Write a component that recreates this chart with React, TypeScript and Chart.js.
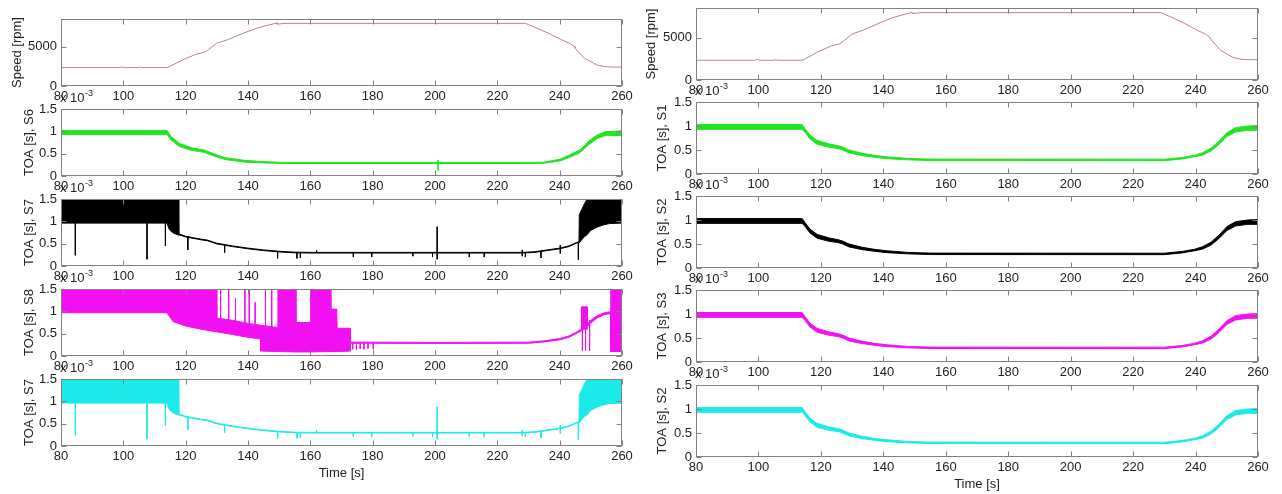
import React, { useEffect, useRef } from 'react';
import { Chart, registerables } from 'chart.js';

Chart.register(...registerables);

// ---------------- tick labels ----------------
const TIME_TICKS = [80, 100, 120, 140, 160, 180, 200, 220, 240, 260];
const SPEED_TICKS = [0, 5000];
const TOA_TICKS = [0, 0.5, 1, 1.5];

// ---------------- rotor speed [rpm] ----------------
const speedTime = [80, 99, 99.5, 100.5, 105, 105.5, 106, 114, 115, 117, 119.4, 123.3, 126, 127.2, 129.9, 133.8, 139, 143, 147, 148.9, 149.1, 149.3, 152.2, 229, 232, 236.4, 240.3, 243.5, 244.6, 244.9, 248, 252, 254.5, 257, 260];
const speedRpm = [2330, 2330, 2420, 2330, 2330, 2400, 2330, 2330, 2500, 2900, 3380, 4020, 4270, 4570, 5410, 5920, 6770, 7360, 7780, 7950, 8050, 7850, 7950, 7950, 7450, 6700, 5920, 5350, 5050, 4800, 3510, 2660, 2450, 2400, 2400];

// ---------------- TOA envelopes (x 1e-3 s) ----------------
// S6 (left, green)
const s6Time = [80, 114, 115.4, 118, 122, 126, 128.6, 132.6, 139, 145.6, 152, 229, 235, 240.3, 244, 246.7, 249.3, 252, 254.5, 260];
const s6Hi = [1.02, 1.02, 0.88, 0.73, 0.63, 0.58, 0.51, 0.41, 0.35, 0.32, 0.305, 0.305, 0.31, 0.38, 0.5, 0.59, 0.78, 0.92, 0.99, 1.01];
const s6Lo = [0.93, 0.93, 0.8, 0.66, 0.57, 0.53, 0.46, 0.37, 0.31, 0.29, 0.28, 0.28, 0.285, 0.34, 0.44, 0.53, 0.7, 0.84, 0.9, 0.91];
const s6SpikeTime = [201];
const s6SpikeTop = [0.36];
const s6SpikeBottom = [0.12];

// S7 (left, black and cyan)
const s7Time = [80, 114, 114.8, 116, 117.4, 117.6, 117.8, 120, 125, 127, 130, 135, 140, 145, 150, 155, 160, 228, 232, 236, 240, 243, 245.5, 246.2, 246.3, 247, 248, 248.8, 250, 252, 254, 256, 260];
const s7Hi = [1.5, 1.5, 1.5, 1.5, 1.5, 1.5, 0.72, 0.665, 0.6, 0.58, 0.51, 0.45, 0.4, 0.36, 0.33, 0.31, 0.305, 0.305, 0.32, 0.36, 0.4, 0.45, 0.53, 0.54, 1.15, 1.25, 1.4, 1.5, 1.5, 1.5, 1.5, 1.5, 1.5];
const s7Lo = [0.96, 0.96, 0.81, 0.74, 0.7, 0.69, 0.7, 0.65, 0.585, 0.565, 0.495, 0.435, 0.385, 0.345, 0.315, 0.295, 0.29, 0.29, 0.305, 0.345, 0.385, 0.435, 0.515, 0.52, 0.52, 0.58, 0.66, 0.7, 0.8, 0.87, 0.92, 0.95, 0.96];
const s7SpikeTime = [84.6, 107.6, 113.5, 120.7, 132.5, 149.5, 155.7, 156.8, 162, 173.8, 179.7, 192.9, 199.2, 200.7, 211, 215.8, 228, 229, 234, 240.2, 246];
const s7SpikeTop = [0.96, 0.96, 0.96, 0.66, 0.45, 0.31, 0.3, 0.3, 0.35, 0.3, 0.3, 0.3, 0.3, 0.88, 0.3, 0.3, 0.36, 0.3, 0.33, 0.47, 0.52];
const s7SpikeBottom = [0.24, 0.15, 0.45, 0.36, 0.3, 0.17, 0.17, 0.18, 0.29, 0.2, 0.2, 0.22, 0.2, 0.15, 0.2, 0.2, 0.22, 0.2, 0.18, 0.28, 0.14];

// S8 (left, magenta)
const s8Time = [80, 114, 116, 118, 120, 125, 129.9, 130, 131, 135, 140, 144, 144.1, 149.5, 149.6, 155.3, 155.4, 160, 160.1, 166.5, 166.6, 168.5, 168.6, 172.8, 172.9, 180, 200, 230, 235, 240, 243, 245, 246.9, 247, 248.8, 248.9, 250, 252, 254, 256.3, 256.4, 260];
const s8Hi = [1.5, 1.5, 1.5, 1.5, 1.5, 1.5, 1.5, 0.85, 0.84, 0.8, 0.73, 0.69, 0.69, 0.64, 1.5, 1.5, 0.75, 0.75, 1.5, 1.5, 1.05, 1.05, 0.62, 0.62, 0.31, 0.31, 0.305, 0.31, 0.34, 0.39, 0.45, 0.52, 0.6, 1.1, 1.1, 0.72, 0.8, 0.9, 0.96, 0.99, 1.5, 1.5];
const s8Lo = [0.97, 0.97, 0.77, 0.72, 0.67, 0.6, 0.54, 0.54, 0.53, 0.48, 0.42, 0.38, 0.11, 0.1, 0.1, 0.09, 0.09, 0.09, 0.09, 0.1, 0.1, 0.1, 0.1, 0.11, 0.285, 0.285, 0.28, 0.285, 0.315, 0.36, 0.42, 0.49, 0.56, 0.6, 0.6, 0.66, 0.74, 0.85, 0.92, 0.95, 0.1, 0.1];
const s8SpikeTime = [131.2, 133.8, 136, 139, 140.4, 142.3, 145.6, 147.6, 173.6, 174.8, 176, 177.2, 178.5, 180.2, 247.3, 248.3, 249.6];
const s8SpikeTop = [1.5, 1.5, 1.3, 1.5, 1.5, 1.2, 1.5, 1.5, 0.3, 0.3, 0.3, 0.3, 0.3, 0.3, 0.75, 0.8, 0.8];
const s8SpikeBottom = [0.84, 0.82, 0.78, 0.75, 0.72, 0.7, 0.67, 0.65, 0.15, 0.14, 0.16, 0.15, 0.17, 0.15, 0.12, 0.12, 0.12];

// S1 / S2 / S3 (right column)
const rightTime = [80, 114, 115, 116.5, 118.8, 122.7, 125.5, 127, 129, 133, 137, 141, 147.7, 155, 230, 235.7, 239.7, 242.3, 245, 247.5, 250, 252.8, 256.7, 260];
const rightHi = [1.03, 1.03, 0.94, 0.81, 0.7, 0.625, 0.59, 0.56, 0.5, 0.435, 0.39, 0.36, 0.325, 0.31, 0.308, 0.345, 0.39, 0.445, 0.54, 0.685, 0.86, 0.965, 1.0, 1.01];
const rightLo = [0.93, 0.93, 0.86, 0.73, 0.62, 0.555, 0.53, 0.5, 0.44, 0.385, 0.35, 0.32, 0.295, 0.28, 0.278, 0.315, 0.36, 0.395, 0.48, 0.615, 0.78, 0.875, 0.91, 0.91];

// ---------------- styles / layout ----------------
const FONT_FAMILY = '"Liberation Sans", Arial, Helvetica, sans-serif';
const TEXT_COLOR = '#222222';
const BOX_COLOR = '#808080';
const TICK_LEN = 5;
const PAD_TOP = 20;
const X_AXIS_H = 22;
const PAD_BOTTOM = 20;

const COLORS = {
  speed: '#c08282',
  green: 'rgb(34,228,34)',
  black: '#000000',
  magenta: 'rgb(242,16,242)',
  cyan: 'rgb(28,234,234)',
};

const COLUMNS = [
  { canvasLeft: 0, width: 640, plotLeft: 61, plotRight: 622, tops: [19, 109, 199, 289, 379], h: 67, speedTitleX: 17, toaTitleX: 29, timeY: 473 },
  { canvasLeft: 640, width: 642, plotLeft: 696, plotRight: 1258, tops: [8, 102, 196, 290, 385], h: 72, speedTitleX: 11, toaTitleX: 22, timeY: 484 },
];

type Band = { t: number[]; hi: number[]; lo: number[] };
type Spikes = { t: number[]; top: number[]; bottom: number[] };
type PanelSpec = {
  col: number;
  row: number;
  kind: 'speed' | 'toa';
  label: string;
  color: string;
  band?: Band;
  spikes?: Spikes;
};

const s6Band: Band = { t: s6Time, hi: s6Hi, lo: s6Lo };
const s7Band: Band = { t: s7Time, hi: s7Hi, lo: s7Lo };
const s8Band: Band = { t: s8Time, hi: s8Hi, lo: s8Lo };
const rightBand: Band = { t: rightTime, hi: rightHi, lo: rightLo };
const s6Spikes: Spikes = { t: s6SpikeTime, top: s6SpikeTop, bottom: s6SpikeBottom };
const s7Spikes: Spikes = { t: s7SpikeTime, top: s7SpikeTop, bottom: s7SpikeBottom };
const s8Spikes: Spikes = { t: s8SpikeTime, top: s8SpikeTop, bottom: s8SpikeBottom };

const PANELS: PanelSpec[] = [
  { col: 0, row: 0, kind: 'speed', label: 'Speed [rpm]', color: COLORS.speed },
  { col: 0, row: 1, kind: 'toa', label: 'TOA [s], S6', color: COLORS.green, band: s6Band, spikes: s6Spikes },
  { col: 0, row: 2, kind: 'toa', label: 'TOA [s], S7', color: COLORS.black, band: s7Band, spikes: s7Spikes },
  { col: 0, row: 3, kind: 'toa', label: 'TOA [s], S8', color: COLORS.magenta, band: s8Band, spikes: s8Spikes },
  { col: 0, row: 4, kind: 'toa', label: 'TOA [s], S7', color: COLORS.cyan, band: s7Band, spikes: s7Spikes },
  { col: 1, row: 0, kind: 'speed', label: 'Speed [rpm]', color: COLORS.speed },
  { col: 1, row: 1, kind: 'toa', label: 'TOA [s], S1', color: COLORS.green, band: rightBand },
  { col: 1, row: 2, kind: 'toa', label: 'TOA [s], S2', color: COLORS.black, band: rightBand },
  { col: 1, row: 3, kind: 'toa', label: 'TOA [s], S3', color: COLORS.magenta, band: rightBand },
  { col: 1, row: 4, kind: 'toa', label: 'TOA [s], S2', color: COLORS.cyan, band: rightBand },
];

function canvasGeom(p: PanelSpec) {
  const c = COLUMNS[p.col];
  const top = c.tops[p.row] - PAD_TOP;
  const height = PAD_TOP + c.h + X_AXIS_H + PAD_BOTTOM;
  return { left: c.canvasLeft, top, width: c.width, height };
}

function buildConfig(p: PanelSpec): any {
  const c = COLUMNS[p.col];
  const g = canvasGeom(p);
  const isSpeed = p.kind === 'speed';
  const yTicks = isSpeed ? SPEED_TICKS : TOA_TICKS;
  const yTitleX = isSpeed ? c.speedTitleX : c.toaTitleX;
  const font = { family: FONT_FAMILY, size: 13 };

  const datasets: any[] = [];
  if (isSpeed) {
    datasets.push({
      data: speedTime.map((t, i) => ({ x: t, y: speedRpm[i] })),
      borderColor: p.color,
      borderWidth: 1,
      pointRadius: 0,
      fill: false,
    });
  } else if (p.band) {
    const b = p.band;
    datasets.push({
      data: b.t.map((t, i) => ({ x: t, y: b.hi[i] })),
      borderColor: p.color,
      backgroundColor: p.color,
      borderWidth: 1,
      pointRadius: 0,
      fill: '+1',
    });
    datasets.push({
      data: b.t.map((t, i) => ({ x: t, y: b.lo[i] })),
      borderColor: p.color,
      borderWidth: 1,
      pointRadius: 0,
      fill: false,
    });
    if (p.spikes) {
      const s = p.spikes;
      const pts: any[] = [];
      s.t.forEach((t, i) => {
        pts.push({ x: t, y: s.top[i] });
        pts.push({ x: t, y: s.bottom[i] });
        pts.push({ x: t, y: null });
      });
      datasets.push({
        data: pts,
        borderColor: p.color,
        borderWidth: 1,
        pointRadius: 0,
        fill: false,
        spanGaps: false,
      });
    }
  }

  const framePlugin = {
    id: 'matlabFrame',
    afterDraw(chart: any) {
      const { ctx, chartArea: a } = chart;
      const xs = chart.scales.x;
      const ys = chart.scales.y;
      ctx.save();
      ctx.strokeStyle = BOX_COLOR;
      ctx.lineWidth = 1;
      const L = Math.round(a.left) + 0.5;
      const R = Math.round(a.right) - 0.5;
      const T = Math.round(a.top) + 0.5;
      const B = Math.round(a.bottom) - 0.5;
      ctx.strokeRect(L, T, R - L, B - T);
      ctx.beginPath();
      TIME_TICKS.forEach((v) => {
        const px = Math.round(xs.getPixelForValue(v)) + 0.5;
        ctx.moveTo(px, B);
        ctx.lineTo(px, B - TICK_LEN);
        ctx.moveTo(px, T);
        ctx.lineTo(px, T + TICK_LEN);
      });
      yTicks.forEach((v) => {
        const py = Math.round(ys.getPixelForValue(v)) + 0.5;
        ctx.moveTo(L, py);
        ctx.lineTo(L + TICK_LEN, py);
        ctx.moveTo(R, py);
        ctx.lineTo(R - TICK_LEN, py);
      });
      ctx.stroke();

      ctx.fillStyle = TEXT_COLOR;
      ctx.font = `13px ${FONT_FAMILY}`;
      // y axis title
      ctx.save();
      ctx.translate(yTitleX, (a.top + a.bottom) / 2);
      ctx.rotate(-Math.PI / 2);
      ctx.textAlign = 'center';
      ctx.textBaseline = 'middle';
      ctx.fillText(p.label, 0, 0);
      ctx.restore();

      // exponent label
      if (!isSpeed) {
        ctx.textAlign = 'left';
        ctx.textBaseline = 'alphabetic';
        const base = 'x 10';
        const ex = a.left - 1;
        const ey = a.top - 7;
        ctx.fillText(base, ex, ey);
        const w = ctx.measureText(base).width;
        ctx.font = `9px ${FONT_FAMILY}`;
        ctx.fillText('-3', ex + w + 0.5, ey - 6);
      }

      // x axis title on the bottom row
      if (p.row === 4) {
        ctx.font = `13px ${FONT_FAMILY}`;
        ctx.textAlign = 'center';
        ctx.textBaseline = 'middle';
        ctx.fillText('Time [s]', (a.left + a.right) / 2, c.timeY - g.top);
      }
      ctx.restore();
    },
  };

  return {
    type: 'line',
    data: { datasets },
    plugins: [framePlugin],
    options: {
      animation: false,
      responsive: false,
      maintainAspectRatio: false,
      events: [],
      layout: {
        padding: {
          left: 0,
          right: g.width - (c.plotRight - c.canvasLeft),
          top: PAD_TOP,
          bottom: PAD_BOTTOM,
        },
      },
      plugins: {
        legend: { display: false },
        title: { display: false },
        tooltip: { enabled: false },
      },
      scales: {
        x: {
          type: 'linear',
          min: 80,
          max: 260,
          grid: { display: false, drawTicks: false, tickLength: 0 },
          border: { display: false },
          afterBuildTicks: (scale: any) => {
            scale.ticks = TIME_TICKS.map((v) => ({ value: v }));
          },
          afterFit: (scale: any) => {
            scale.height = X_AXIS_H;
            scale.paddingLeft = 0;
            scale.paddingRight = 0;
          },
          ticks: {
            autoSkip: false,
            maxRotation: 0,
            minRotation: 0,
            padding: 3,
            color: TEXT_COLOR,
            font,
            callback: (v: any) => String(v),
          },
        },
        y: {
          type: 'linear',
          min: 0,
          max: isSpeed ? 8500 : 1.5,
          grid: { display: false, drawTicks: false, tickLength: 0 },
          border: { display: false },
          afterBuildTicks: (scale: any) => {
            scale.ticks = yTicks.map((v) => ({ value: v }));
          },
          afterFit: (scale: any) => {
            scale.width = c.plotLeft - c.canvasLeft;
            scale.paddingTop = 0;
            scale.paddingBottom = 0;
          },
          ticks: {
            autoSkip: false,
            padding: 4,
            color: TEXT_COLOR,
            font,
            callback: (v: any) => String(v),
          },
        },
      },
    },
  };
}

function PanelChart({ spec }: { spec: PanelSpec }) {
  const ref = useRef<HTMLCanvasElement | null>(null);
  const g = canvasGeom(spec);
  useEffect(() => {
    if (!ref.current) return;
    const chart = new Chart(ref.current, buildConfig(spec));
    return () => chart.destroy();
  }, [spec]);
  return (
    <canvas
      ref={ref}
      width={g.width}
      height={g.height}
      style={{
        position: 'absolute',
        left: `${g.left}px`,
        top: `${g.top}px`,
        width: `${g.width}px`,
        height: `${g.height}px`,
      }}
    />
  );
}

export default function App() {
  return (
    <div
      style={{
        position: 'absolute',
        left: 0,
        top: 0,
        width: '1282px',
        height: '494px',
        background: '#ffffff',
        overflow: 'hidden',
      }}
    >
      {PANELS.map((p, i) => (
        <PanelChart key={i} spec={p} />
      ))}
    </div>
  );
}
